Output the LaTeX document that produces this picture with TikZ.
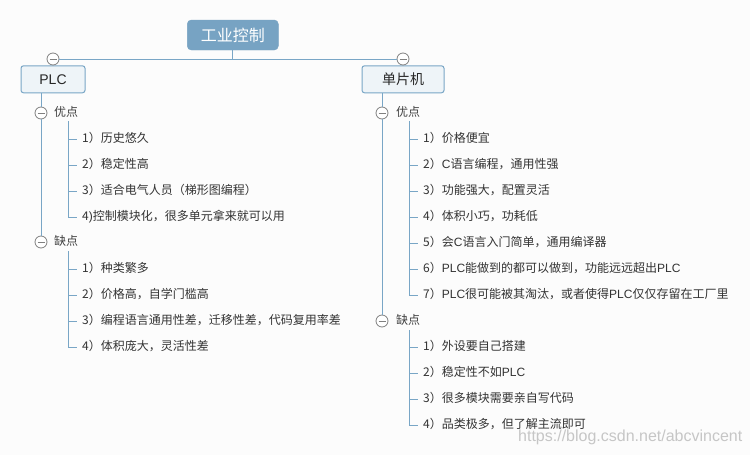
\documentclass[tikz,border=0pt]{standalone}
\usepackage{fontspec}
\setmainfont{Noto Sans CJK SC}
\newfontfamily\latf{Liberation Sans}
\newcommand\La[1]{{\latf #1}}
\definecolor{ln}{HTML}{79A6C6}
\definecolor{rootfill}{HTML}{77A3C3}
\definecolor{brfill}{HTML}{EEF4F8}
\definecolor{bg}{HTML}{FCFCFC}
\definecolor{togc}{HTML}{808080}
\definecolor{txt}{HTML}{333333}
\definecolor{wmc}{HTML}{C6C6C6}
\begin{document}
\begin{tikzpicture}[x=1pt,y=-1pt,
  conn/.style={draw=ln,line width=1pt},
  rootbox/.style={fill=rootfill,draw=rootfill,rounded corners=4pt,minimum width=91pt,minimum height=30pt,inner sep=0pt,text=white,font=\fontsize{16}{18}\selectfont},
  branchbox/.style={fill=brfill,draw=ln,line width=1pt,rounded corners=2.5pt,minimum height=27pt,inner sep=0pt,text=black!85,font=\fontsize{14}{16}\selectfont},
  tog/.style={circle,draw=togc,fill=white,line width=0.8pt,minimum size=12pt,inner sep=0pt,
    path picture={\draw[togc,line width=0.8pt] ([xshift=2.5pt]path picture bounding box.west) -- ([xshift=-2.5pt]path picture bounding box.east);}},
  lbl/.style={anchor=west,inner sep=0pt,text=black!75,font=\fontsize{12}{14}\selectfont,text height=0.88em,text depth=0.12em},
  leaf/.style={anchor=west,inner sep=0pt,text=txt,font=\fontsize{12}{14}\selectfont,text height=0.88em,text depth=0.12em}]
\useasboundingbox[fill=bg] (0,0) rectangle (750,455);

% root and branches
\node[rootbox] (root) at (232.8,35) {工业控制};
\node[branchbox,minimum width=64pt] (plc) at (53,79.3) {\La{PLC}};
\node[branchbox,minimum width=82pt] (mcu) at (403,79.3) {单片机};
\node[tog] (cplc) at (53,59) {};
\node[tog] (cmcu) at (403,59) {};
\draw[conn] (root.south) -- (root.south |- cplc.center);
\draw[conn] (cplc.east) -- (cmcu.west);

% PLC side
\node[tog] (pp) at (41,113) {};
\node[lbl] (ppl) at (54,113) {优点};
\node[tog] (pc) at (41,242) {};
\node[lbl] (pcl) at (54,242) {缺点};
\draw[conn] (plc.south -| pp) -- (pp.north);
\draw[conn] (pp.south) -- (pc.north);

\node[leaf] (p1) at (82,139) {1）历史悠久};
\node[leaf] (p2) at (82,165) {2）稳定性高};
\node[leaf] (p3) at (82,191) {3）适合电气人员（梯形图编程）};
\node[leaf] (p4) at (82,217) {4\La{)}控制模块化，很多单元拿来就可以用};
\coordinate (ppv) at (68,121);
\draw[conn] (ppv) |- ([xshift=-5.5pt]p4.west);
\foreach \n in {p1,p2,p3} \draw[conn] (ppv |- \n.west) -- ([xshift=-5.5pt]\n.west);

\node[leaf] (q1) at (82,269) {1）种类繁多};
\node[leaf] (q2) at (82,295) {2）价格高，自学门槛高};
\node[leaf] (q3) at (82,321) {3）编程语言通用性差，迁移性差，代码复用率差};
\node[leaf] (q4) at (82,347) {4）体积庞大，灵活性差};
\coordinate (pcv) at (68,251);
\draw[conn] (pcv) |- ([xshift=-5.5pt]q4.west);
\foreach \n in {q1,q2,q3} \draw[conn] (pcv |- \n.west) -- ([xshift=-5.5pt]\n.west);

% MCU side
\node[tog] (mp) at (382,113) {};
\node[lbl] (mpl) at (396,113) {优点};
\node[tog] (mc) at (382,321) {};
\node[lbl] (mcl) at (396,321) {缺点};
\draw[conn] (mcu.south -| mp) -- (mp.north);
\draw[conn] (mp.south) -- (mc.north);

\node[leaf] (r1) at (423,139) {1）价格便宜};
\node[leaf] (r2) at (423,165) {2）\La{C}语言编程，通用性强};
\node[leaf] (r3) at (423,191) {3）功能强大，配置灵活};
\node[leaf] (r4) at (423,217) {4）体积小巧，功耗低};
\node[leaf] (r5) at (423,243) {5）会\La{C}语言入门简单，通用编译器};
\node[leaf] (r6) at (423,269) {6）\La{PLC}能做到的都可以做到，功能远远超出\La{PLC}};
\node[leaf] (r7) at (423,295) {7）\La{PLC}很可能被其淘汰，或者使得\La{PLC}仅仅存留在工厂里};
\coordinate (mpv) at (409,121);
\draw[conn] (mpv) |- ([xshift=-5.5pt]r7.west);
\foreach \n in {r1,r2,r3,r4,r5,r6} \draw[conn] (mpv |- \n.west) -- ([xshift=-5.5pt]\n.west);

\node[leaf] (s1) at (423,347) {1）外设要自己搭建};
\node[leaf] (s2) at (423,373) {2）稳定性不如\La{PLC}};
\node[leaf] (s3) at (423,399) {3）很多模块需要亲自写代码};
\node[leaf] (s4) at (423,425) {4）品类极多，但了解主流即可};
\coordinate (mcv) at (409,330);
\draw[conn] (mcv) |- ([xshift=-5.5pt]s4.west);
\foreach \n in {s1,s2,s3} \draw[conn] (mcv |- \n.west) -- ([xshift=-5.5pt]\n.west);

% watermark
\node[anchor=west,inner sep=0pt,text=wmc,font=\latf\fontsize{16}{18}\selectfont] (wm) at (518,437) {https://blog.csdn.net/abcvincent};
\end{tikzpicture}
\end{document}
